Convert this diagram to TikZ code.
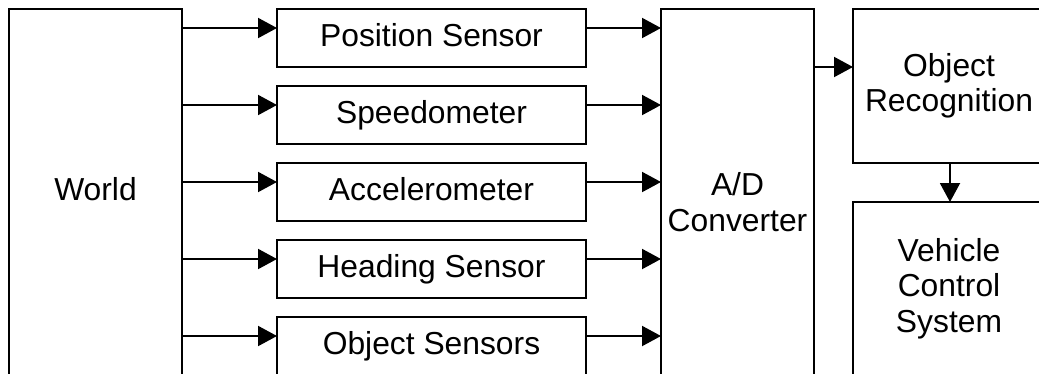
\documentclass[tikz,border=0pt]{standalone}
\usepackage{fontspec}
\setmainfont{Liberation Sans}
\usetikzlibrary{arrows.meta,calc}
\begin{document}
\begin{tikzpicture}[x=1pt,y=-1pt,
  box/.style={draw, line width=2.2pt, inner sep=0pt, outer sep=0pt,
    anchor=north west, align=center,
    font=\fontsize{31.8}{35.5}\selectfont},
  oneline/.style={text height=22.9pt, text depth=6.7pt},
  sensor/.style={box, oneline, minimum width=309pt, minimum height=58pt},
  arr/.style={line width=2pt, -{Triangle[length=19pt,width=20pt]}}]
\fill[white] (0,0) rectangle (1039,373);
\useasboundingbox (0,0) rectangle (1039,373);
\clip (0,0) rectangle (1039,373);

% source block
\node[box, oneline, minimum width=173pt, minimum height=366pt] (world) at (9,9) {World};

% sensor column
\node[sensor] (s1) at (277,9)   {Position Sensor};
\node[sensor] (s2) at (277,86)  {Speedometer};
\node[sensor] (s3) at (277,163) {Accelerometer};
\node[sensor] (s4) at (277,240) {Heading Sensor};
\node[sensor] (s5) at (277,317) {Object Sensors};

% conversion and processing blocks
\node[box, minimum width=153pt, minimum height=386pt] (ad) at (661,9) {A/D\\Converter};
\node[box, minimum width=192pt, minimum height=154pt] (rec) at (853,9) {Object\\Recognition};
\node[box, minimum width=192pt, minimum height=173pt] (veh) at (853,202) {Vehicle\\Control\\System};

% signal flow
\foreach \s in {1,...,5} {
  \coordinate (in\s)  at ([yshift=-19pt]s\s.north west);
  \coordinate (out\s) at ([yshift=-19pt]s\s.north east);
  \draw[arr] (world.east |- in\s) -- (in\s);
  \draw[arr] (out\s) -- (ad.west |- out\s);
}
\coordinate (recin) at ([yshift=-58pt]rec.north west);
\draw[arr] (ad.east |- recin) -- (recin);
\coordinate (recout) at ([xshift=97pt]rec.south west);
\draw[arr] (recout) -- (recout |- veh.north);
\end{tikzpicture}
\end{document}
